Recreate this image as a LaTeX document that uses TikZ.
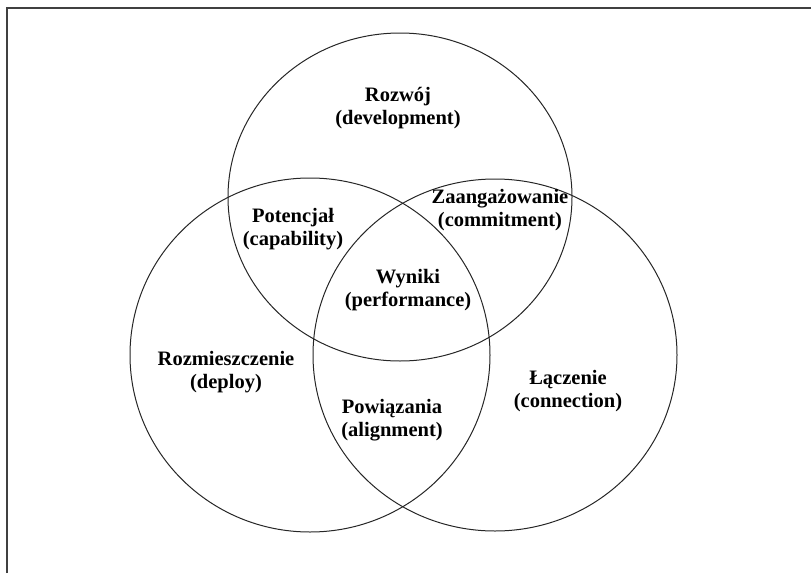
\documentclass[tikz,border=0pt]{standalone}
\usepackage{fontspec}
\setmainfont{Liberation Serif}
\usepackage{xcolor}
\usepackage{tikz}
\usetikzlibrary{positioning}

\begin{document}
\begin{tikzpicture}[
      x=1pt, y=-1pt,
      every node/.style={align=center, inner sep=0pt, font=\fontsize{20.5}{23}\selectfont\bfseries},
      ring/.style={draw=black!85, line width=1pt},
      frame/.style={draw=black!75, line width=2.5pt}
    ]
    \useasboundingbox (0,0) rectangle (811,573);
    \draw[frame] (7,573) -- (7,8) -- (811,8);
    % three rings
    \draw[ring] (400,197) ellipse [x radius=172, y radius=164];
    \draw[ring] (310,355) ellipse [x radius=180, y radius=177];
    \draw[ring] (495,355) ellipse [x radius=182, y radius=176];
    % labels
    \node (dev)  at (398,108) {Rozwój\\(development)};
    \node (cap)  at (293,229) {Potencjał\\(capability)};
    \node (com)  at (500,210) {Zaangażowanie\\(commitment)};
    \node (perf) at (408,290) {Wyniki\\(performance)};
    \node (dep)  at (226,372) {Rozmieszczenie\\(deploy)};
    \node (ali)  at (392,420) {Powiązania\\(alignment)};
    \node (con)  at (568,391) {Łączenie\\(connection)};
  \end{tikzpicture}
\end{document}
